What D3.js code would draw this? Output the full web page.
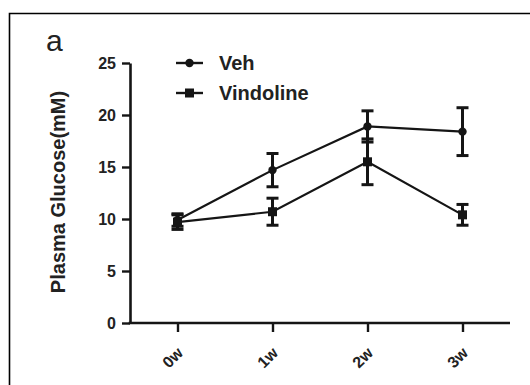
<!DOCTYPE html>
<html><head><meta charset="utf-8">
<script src="https://cdn.jsdelivr.net/npm/d3@7"></script>
<style>body{margin:0;background:#fff}svg{display:block}</style>
</head><body>
<script>
const categories = ["0w","1w","2w","3w"];
const vehValues = [9.9, 14.7, 18.9, 18.4];
const vehErrors = [0.6, 1.6, 1.5, 2.3];
const vindValues = [9.7, 10.7, 15.5, 10.4];
const vindErrors = [0.7, 1.3, 2.2, 1.0];
const yTicks = [0, 5, 10, 15, 20, 25];
const seriesNames = ["Veh", "Vindoline"];

const W = 530, H = 385;
const ink = "#151515";
const svg = d3.select("body").append("svg").attr("width", W).attr("height", H);

// frame (cropped panel border)
svg.append("path").attr("d", `M9.5,${H} V13.5 H${W}`).attr("fill","none").attr("stroke","#000").attr("stroke-width",1.6);

const x = d3.scalePoint().domain(categories).range([130, 510]).padding(0.5);
const y = d3.scaleLinear().domain([0, 25]).range([323, 63]);

// y axis
const ya = svg.append("g").attr("transform","translate(130,0)")
  .call(d3.axisLeft(y).tickValues(yTicks).tickSize(8).tickPadding(6).tickSizeOuter(0));
ya.select(".domain").attr("stroke", ink).attr("stroke-width", 2.6);
ya.selectAll(".tick line").attr("stroke", ink).attr("stroke-width", 2.4);
ya.selectAll(".tick text").attr("font-family","Liberation Sans, Arial, sans-serif").attr("font-weight","bold")
  .attr("font-size", 16).attr("fill","#222");

// x axis
const xa = svg.append("g").attr("transform","translate(0,323)")
  .call(d3.axisBottom(x).tickSize(9).tickSizeOuter(0));
xa.select(".domain").attr("stroke", ink).attr("stroke-width", 2.6)
  .attr("d", "M128.7,0H510");
xa.selectAll(".tick line").attr("stroke", ink).attr("stroke-width", 2.4);
xa.selectAll(".tick text").attr("font-family","Liberation Sans, Arial, sans-serif").attr("font-weight","bold")
  .attr("font-size", 16).attr("fill","#222")
  .attr("text-anchor","end").attr("dy", null).attr("y", 0)
  .attr("transform","translate(6,31) rotate(-45)");

// y title
svg.append("text").attr("transform","translate(65,192) rotate(-90)")
  .attr("text-anchor","middle").attr("font-family","Liberation Sans, Arial, sans-serif")
  .attr("font-weight","bold").attr("font-size",20).attr("fill","#222").text("Plasma Glucose(mM)");

// panel label
svg.append("text").attr("x",46).attr("y",51).attr("font-family","Liberation Sans, Arial, sans-serif")
  .attr("font-size",30).attr("fill","#222").text("a");

const series = [
  {name: seriesNames[0], vals: vehValues, errs: vehErrors, shape: "circle"},
  {name: seriesNames[1], vals: vindValues, errs: vindErrors, shape: "square"}
];

const line = d3.line().x((d,i)=>x(categories[i])).y(d=>y(d));

series.forEach(s => {
  const g = svg.append("g");
  g.append("path").datum(s.vals).attr("d", line).attr("fill","none").attr("stroke", ink).attr("stroke-width", 2.2);
  s.vals.forEach((v,i) => {
    const cx = x(categories[i]);
    const hi = y(v + s.errs[i]), lo = y(v - s.errs[i]);
    g.append("line").attr("x1",cx).attr("x2",cx).attr("y1",hi).attr("y2",lo).attr("stroke",ink).attr("stroke-width",3);
    g.append("line").attr("x1",cx-6).attr("x2",cx+6).attr("y1",hi).attr("y2",hi).attr("stroke",ink).attr("stroke-width",3);
    g.append("line").attr("x1",cx-6).attr("x2",cx+6).attr("y1",lo).attr("y2",lo).attr("stroke",ink).attr("stroke-width",3);
    if (s.shape === "circle") g.append("circle").attr("cx",cx).attr("cy",y(v)).attr("r",4.2).attr("fill",ink);
    else g.append("rect").attr("x",cx-4.5).attr("y",y(v)-4.5).attr("width",9).attr("height",9).attr("fill",ink);
  });
});

// legend
const lg = svg.append("g");
series.forEach((s,i) => {
  const ly = 63 + i*30;
  lg.append("line").attr("x1",176).attr("x2",203).attr("y1",ly).attr("y2",ly).attr("stroke",ink).attr("stroke-width",2.4);
  if (s.shape === "circle") lg.append("circle").attr("cx",189.5).attr("cy",ly).attr("r",4.2).attr("fill",ink);
  else lg.append("rect").attr("x",185).attr("y",ly-4.5).attr("width",9).attr("height",9).attr("fill",ink);
  lg.append("text").attr("x",219).attr("y",ly+7).attr("font-family","Liberation Sans, Arial, sans-serif")
    .attr("font-weight","bold").attr("font-size",20).attr("fill","#222").text(s.name);
});
</script>
</body></html>
